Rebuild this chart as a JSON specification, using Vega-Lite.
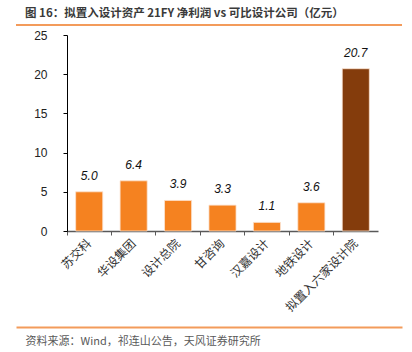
{
  "$schema": "https://vega.github.io/schema/vega-lite/v6.json",
  "autosize": {"type": "none"},
  "width": 386,
  "height": 302,
  "padding": {"left": 16, "top": 25, "right": 10, "bottom": 25},
  "background": "white",
  "title": {
    "text": "图 16：拟置入设计资产 21FY 净利润 vs 可比设计公司（亿元）",
    "anchor": "start",
    "frame": "group",
    "dx": 9,
    "font": "Noto Sans CJK SC",
    "fontSize": 11.5,
    "fontWeight": "bold",
    "color": "#3a3a3a",
    "offset": 5
  },
  "layer": [
    {
      "data": {
        "values": [
          {"name": "苏交科", "v": 5.0, "group": "可比"},
          {"name": "华设集团", "v": 6.4, "group": "可比"},
          {"name": "设计总院", "v": 3.9, "group": "可比"},
          {"name": "甘咨询", "v": 3.3, "group": "可比"},
          {"name": "汉嘉设计", "v": 1.1, "group": "可比"},
          {"name": "地铁设计", "v": 3.6, "group": "可比"},
          {"name": "拟置入六家设计院", "v": 20.7, "group": "拟置入"}
        ]
      },
      "encoding": {
        "y": {
          "field": "v", "type": "quantitative",
          "scale": {"domain": [0, 25], "nice": false, "range": [206, 10]},
          "axis": {
            "values": [0, 5, 10, 15, 20, 25], "tickSize": 4, "labelPadding": 16, "offset": -51,
            "domainColor": "#000000", "tickColor": "#000000",
            "labelFont": "Liberation Sans", "labelFontSize": 12, "labelColor": "#222222",
            "grid": false, "title": null
          }
        }
      },
      "layer": [
        {
          "mark": {"type": "bar", "width": {"band": 0.61}, "stroke": "#FBE3D2", "strokeWidth": 0.8},
          "encoding": {
            "x": {
              "field": "name", "type": "nominal", "sort": null,
              "scale": {"type": "band", "range": [51, 362], "paddingInner": 0, "paddingOuter": 0},
              "axis": {
                "orient": "bottom", "offset": -96,
                "bandPosition": 0, "labels": false, "ticks": true, "tickSize": 4,
                "domain": true, "domainColor": "#595959", "domainWidth": 1.5,
                "tickColor": "#595959", "tickWidth": 1, "title": null, "grid": false
              }
            },
            "color": {
              "field": "group", "type": "nominal",
              "scale": {"domain": ["可比", "拟置入"], "range": ["#F58220", "#843C0C"]},
              "legend": null
            }
          }
        },
        {
          "mark": {
            "type": "text", "baseline": "bottom", "dy": -9,
            "font": "Liberation Sans", "fontStyle": "italic", "fontSize": 12, "color": "#111111"
          },
          "encoding": {
            "x": {
              "field": "name", "type": "nominal", "sort": null,
              "axis": {
                "orient": "bottom", "offset": -96,
                "ticks": false, "domain": false, "labelAngle": -45, "labelAlign": "right",
                "labelBaseline": "middle", "labelFont": "Noto Sans CJK SC", "labelFontSize": 12,
                "labelColor": "#333333", "labelPadding": 10, "labelOverlap": false,
                "labelLimit": 300, "title": null, "grid": false
              }
            },
            "text": {"field": "v", "type": "quantitative", "format": ".1f"}
          }
        }
      ],
      "resolve": {"axis": {"x": "independent"}}
    },
    {
      "data": {"values": [{"line": "header", "pos": 1}]},
      "mark": {"type": "rule", "color": "#F39B5B", "strokeWidth": 2},
      "encoding": {
        "x": {
          "datum": 0, "type": "quantitative",
          "scale": {"domain": [0, 1], "nice": false, "zero": false},
          "axis": {
            "orient": "bottom", "domainColor": "#F39B5B", "domainWidth": 2,
            "ticks": false, "labels": false, "grid": false,
            "title": "资料来源：Wind，祁连山公告，天风证券研究所",
            "titleAnchor": "start", "titleAlign": "left", "titleX": 9, "titlePadding": 8,
            "titleFont": "Noto Sans CJK SC", "titleFontSize": 11, "titleFontWeight": "normal",
            "titleColor": "#595959"
          }
        },
        "x2": {"datum": 1},
        "y": {
          "field": "pos", "type": "quantitative",
          "scale": {"domain": [0, 1], "nice": false}, "axis": null
        }
      }
    }
  ],
  "resolve": {"scale": {"x": "independent", "y": "independent"}, "axis": {"x": "independent", "y": "independent"}},
  "config": {"view": {"stroke": null}}
}
